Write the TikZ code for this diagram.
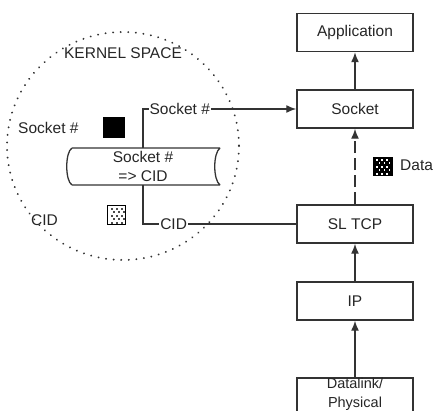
\documentclass[tikz,border=0pt]{standalone}
\usepackage{fontspec}
\setmainfont{Liberation Sans}
\usetikzlibrary{arrows.meta}
\tikzset{
  x=1pt, y=-1pt,
  every node/.style={font=\fontsize{15.5}{19}\selectfont, text=black!85, inner sep=0pt},
  layerbox/.style={draw=black!80, line width=1.5pt, minimum width=116pt, minimum height=38pt, fill=white},
  conn/.style={draw=black!80, line width=1.4pt},
  tip/.style={-{Latex[length=10pt,width=8pt]}},
  lbl/.style={fill=white, inner xsep=1pt},
}
\begin{document}
\begin{tikzpicture}
\clip (0,0) rectangle (440,411);
\fill[white] (0,0) rectangle (440,411);
% kernel space dotted region
\draw[black!80, line width=2pt, dash pattern=on 0.1pt off 7.5pt, line cap=round] (123,146) ellipse [x radius=116, y radius=114];
\node (kern) at (123,53) {KERNEL SPACE};
% layer boxes
\node[layerbox] (app) at (355,32.5) {Application};
\node[layerbox] (sock) at (355,109) {Socket};
\node[layerbox] (tcp) at (355,224) {SL TCP};
\node[layerbox] (ip) at (355,301) {IP};
\node[layerbox, minimum height=40pt] (dl) at (355,398) {};
\node[align=center, font=\fontsize{14.5}{19}\selectfont] (dltext) at (355,394) {Datalink/\\Physical};
% vertical arrows
\draw[conn, tip] (sock.north) -- (app.south);
\draw[conn, tip, dash pattern=on 12pt off 5pt] (tcp.north) -- (sock.south);
\draw[conn, tip] (ip.north) -- (tcp.south);
\draw[conn, tip] (dl.north) -- (ip.south);
% cylinder
\node[minimum width=153pt, minimum height=37pt] (cyl) at (143.5,166.5) {};
\draw[black!80, line width=1.3pt]
  (72,148) -- (220,148)
  (72,185) -- (220,185)
  (72,148) .. controls (65,152) and (65,181) .. (72,185)
  (220,148) .. controls (213,153) and (213,180) .. (220,185);
\node[align=center] (cyltext) at (143,166) {Socket \#\\=> CID};
% connectors
\coordinate (ctop) at (143,148);
\coordinate (cbot) at (143,185);
\draw[conn, tip] (ctop) |- (sock.west) node[lbl, pos=0.62] (slbl) {Socket \#};
\draw[conn] (cbot) |- (tcp.west) node[lbl, pos=0.6] (clbl) {CID};
% icons and labels
\node[anchor=west] (sockl) at (18,128) {Socket \#};
\node[fill=black, minimum width=22pt, minimum height=21pt] (blk) at (114,127.5) {};
\node[anchor=west] (cidl) at (31,220) {CID};
\node[draw=black, line width=1pt, minimum width=18pt, minimum height=19pt] (pat1) at (116.5,215) {};
\foreach \i in {0,1,2} \foreach \j in {0,1,2,3,4} {
  \pgfmathsetmacro{\ox}{110.5+\i*5+mod(\j,2)*2.5}
  \fill[black!70] ({\ox},{208+\j*3.5}) rectangle ++(2,2);
}
\node[fill=black, minimum width=20pt, minimum height=19pt] (pat2) at (383,166.5) {};
\foreach \i in {0,1,2} \foreach \j in {0,1,2,3,4} {
  \pgfmathsetmacro{\ox}{376+\i*5+mod(\j,2)*2.5}
  \fill[white] ({\ox},{159+\j*3.5}) rectangle ++(1.8,1.8);
}
\node[anchor=west] (datal) at (400,165) {Data};
\end{tikzpicture}
\end{document}
